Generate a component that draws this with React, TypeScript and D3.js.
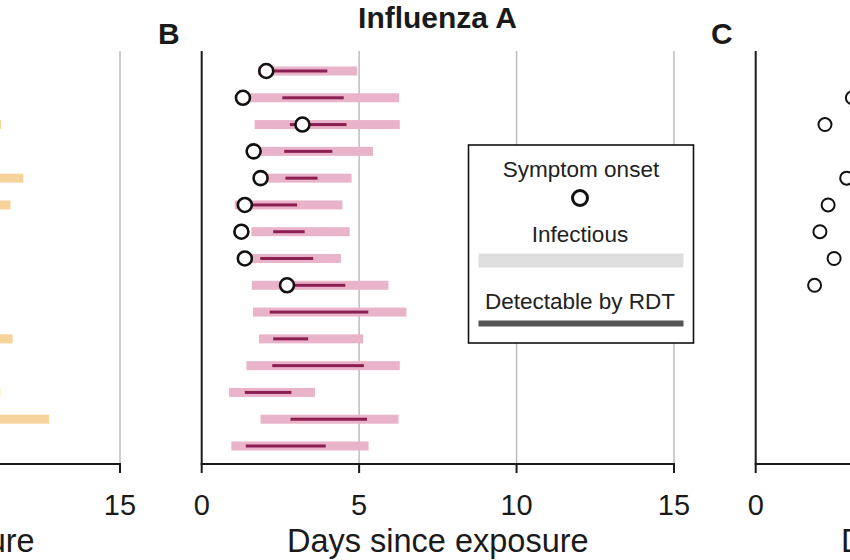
import React from "react";
import * as d3 from "d3";

// ---- Data (days since exposure) ----
const rows = d3.range(15);

// Panel B – Influenza A
const infStartB = [1.79, 1.10, 1.68, 1.65, 1.87, 1.05, 1.58, 1.60, 1.59, 1.63, 1.82, 1.42, 0.87, 1.87, 0.94];
const infEndB = [4.94, 6.27, 6.29, 5.44, 4.76, 4.47, 4.70, 4.42, 5.93, 6.50, 5.13, 6.29, 3.60, 6.25, 5.30];
const detStartB = [2.05, 2.56, 2.80, 2.62, 2.66, 1.58, 2.27, 1.86, 2.71, 2.16, 2.27, 2.24, 1.37, 2.82, 1.40];
const detEndB = [3.99, 4.51, 4.60, 4.15, 3.68, 3.03, 3.27, 3.54, 4.56, 5.29, 3.38, 5.15, 2.85, 5.25, 3.94];
const onsetB: (number | null)[] = [2.05, 1.31, 3.20, 1.65, 1.87, 1.37, 1.26, 1.37, 2.71, null, null, null, null, null, null];

// Panel A – (partly visible) infectious bars
const rowsA = [2, 4, 5, 10, 12, 13];
const infStartA = [7.5, 7.8, 7.2, 7.6, 7.4, 7.9];
const infEndA = [11.22, 11.93, 11.52, 11.59, 11.2, 12.75];

// Panel C – (partly visible) symptom onset
const rowsC = [1, 2, 4, 5, 6, 7, 8];
const onsetC = [3.07, 2.20, 2.89, 2.30, 2.04, 2.49, 1.87];

const xTicks = [0, 5, 10, 15];
const xLabel = "Days since exposure";
const title = "Influenza A";

const FONT = "'Liberation Sans', Arial, Helvetica, sans-serif";
const PINK = "#e9b3c9";
const DARK = "#8c1f52";
const ORANGE = "#f5d39a";
const GRID = "#bdbdbd";
const AXIS = "#1a1a1a";

const W = 850, H = 560;
const yTop = 51, yAxis = 464;
const panelShift = 554;
const x0B = 201.7, x15B = 674;

const y = d3.scalePoint<number>().domain(rows).range([71, 446]);

function makeX(offset: number) {
  return d3.scaleLinear().domain([0, 15]).range([x0B + offset, x15B + offset]);
}

const visible = (cx: number, half: number) => cx + half > 0 && cx - half < W;

function PanelFrame({ x }: { x: d3.ScaleLinear<number, number> }) {
  const mid = (x(0) + x(15)) / 2;
  return (
    <g>
      {[5, 10, 15].map((t) => (
        <line key={"g" + t} x1={x(t)} x2={x(t)} y1={yTop} y2={yAxis} stroke={GRID} strokeWidth={1.5} />
      ))}
      <line x1={x(0)} x2={x(0)} y1={yTop} y2={yAxis} stroke={AXIS} strokeWidth={2} />
      <line x1={x(0) - 1} x2={x(15) + 1} y1={yAxis} y2={yAxis} stroke={AXIS} strokeWidth={2} />
      {xTicks.map((t) => (
        <g key={"t" + t}>
          <line x1={x(t)} x2={x(t)} y1={yAxis} y2={yAxis + 9} stroke={AXIS} strokeWidth={2} />
          {visible(x(t), 18) && (
            <text x={x(t)} y={515} textAnchor="middle" fontSize={29} fontFamily={FONT} fill="#1a1a1a">
              {t}
            </text>
          )}
        </g>
      ))}
      {visible(mid, 152) && (
        <text x={mid} y={552} textAnchor="middle" fontSize={32.5} fontFamily={FONT} fill="#1a1a1a">
          {xLabel}
        </text>
      )}
    </g>
  );
}

export default function App() {
  const xA = makeX(-panelShift);
  const xB = makeX(0);
  const xC = makeX(panelShift);
  return (
    <svg width={W} height={H} style={{ position: "absolute", left: 0, top: 0, background: "#fff" }}>
      <rect x={0} y={0} width={W} height={H} fill="#fff" />
      {/* Panel A */}
      <PanelFrame x={xA} />
      {rowsA.map((r, i) => (
        <rect key={"a" + i} x={xA(infStartA[i])} y={y(r)! - 4.5} width={xA(infEndA[i]) - xA(infStartA[i])} height={9} fill={ORANGE} />
      ))}

      {/* Panel B */}
      <PanelFrame x={xB} />
      {rows.map((r) => (
        <g key={"b" + r}>
          <rect x={xB(infStartB[r])} y={y(r)! - 4.5} width={xB(infEndB[r]) - xB(infStartB[r])} height={9} fill={PINK} />
          <rect x={xB(detStartB[r])} y={y(r)! - 1.5} width={xB(detEndB[r]) - xB(detStartB[r])} height={3} fill={DARK} />
          {onsetB[r] !== null && (
            <circle cx={xB(onsetB[r] as number)} cy={y(r)!} r={7} fill="#fff" stroke="#111" strokeWidth={2.6} />
          )}
        </g>
      ))}

      {/* Legend */}
      <g>
        <rect x={468.5} y={145} width={225} height={198} fill="#fff" stroke="#111" strokeWidth={1.6} />
        <text x={581} y={177} textAnchor="middle" fontSize={22.5} fontFamily={FONT} fill="#222">Symptom onset</text>
        <circle cx={580} cy={198} r={7.5} fill="#fff" stroke="#111" strokeWidth={3} />
        <text x={580} y={242} textAnchor="middle" fontSize={22.5} fontFamily={FONT} fill="#222">Infectious</text>
        <rect x={478.5} y={253.5} width={205} height={14} fill="#dedede" />
        <text x={580} y={308.5} textAnchor="middle" fontSize={22.5} fontFamily={FONT} fill="#222">Detectable by RDT</text>
        <rect x={478.5} y={320.5} width={205} height={6} fill="#555" />
      </g>

      {/* Panel C */}
      <PanelFrame x={xC} />
      {rowsC.map((r, i) => (
        <circle key={"c" + i} cx={xC(onsetC[i])} cy={y(r)!} r={6.5} fill="#fff" stroke="#111" strokeWidth={2} />
      ))}

      {/* Titles */}
      <text x={437.5} y={27.5} textAnchor="middle" fontSize={30} fontWeight="bold" fontFamily={FONT} fill="#1a1a1a">{title}</text>
      <text x={158} y={43.5} fontSize={30} fontWeight="bold" fontFamily={FONT} fill="#1a1a1a">B</text>
      <text x={711} y={43.5} fontSize={30} fontWeight="bold" fontFamily={FONT} fill="#1a1a1a">C</text>
    </svg>
  );
}
